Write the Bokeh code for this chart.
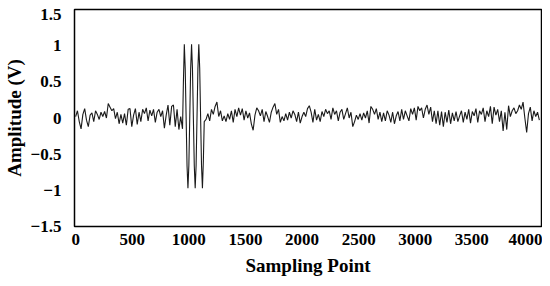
from bokeh.plotting import figure
from bokeh.models import FixedTicker, Range1d
from bokeh.embed import file_html
from bokeh.resources import INLINE

# ---- data ----
NOISE_STEP = 16
noise_pre_start = 0
noise_pre = [0.02, 0.10, -0.05, -0.15, 0.05, 0.13, -0.03, -0.12, 0.04, 0.07,
             -0.05, 0.10, 0.05, -0.02, 0.08, 0.02, 0.09, 0.00, 0.20, 0.15,
             0.10, 0.13, -0.01, 0.08, -0.08, 0.05, -0.07, 0.06, -0.10, 0.12,
             0.13, -0.12, 0.04, 0.13, -0.09, 0.08, -0.05, 0.12, 0.06, 0.14,
             -0.04, 0.11, 0.03, 0.12, -0.06, 0.08, 0.12, 0.02, 0.10, -0.14,
             0.04, 0.18, -0.10, 0.16, 0.18, -0.12, 0.12, -0.16, 0.02]

BURST_STEP = 8
burst_start = 944
burst = [-0.15, 0.50, 1.02, 0.68, 0.00, -0.66, -0.97, -0.66, 0.00, 0.68,
         1.02, 0.68, 0.00, -0.66, -0.97, -0.66, 0.00, 0.68, 1.02, 0.68,
         0.00, -0.66, -0.97, -0.60, -0.05]

noise_post_start = 1152
noise_post = [-0.02, 0.06, -0.04, 0.12, 0.05, 0.16, 0.22, 0.02, 0.10, -0.04,
              0.03, -0.05, 0.06, -0.02, 0.10, -0.06, 0.12, 0.02, 0.14, 0.04,
              0.13, -0.03, 0.10, 0.00, 0.07, -0.08, -0.17, 0.04, 0.14, 0.10,
              0.03, 0.12, -0.05, 0.09, 0.02, -0.06, 0.08, 0.15, 0.20, 0.05,
              0.12, -0.06, 0.02, -0.04, 0.06, -0.03, 0.08, 0.00, 0.10, 0.05,
              -0.05, 0.08, -0.07, 0.02, 0.08, 0.02, 0.13, 0.17, 0.08, -0.06,
              0.12, -0.03, 0.05, -0.05, 0.09, 0.02, 0.12, 0.06, 0.10, -0.02,
              0.14, 0.05, 0.10, -0.04, 0.08, 0.12, -0.02, 0.06, 0.14, 0.00,
              0.08, -0.12, -0.05, 0.04, -0.02, 0.06, -0.03, 0.07, 0.00, 0.10,
              -0.07, 0.16, 0.12, 0.05, 0.13, -0.02, 0.08, -0.05, 0.07, -0.04,
              0.10, 0.04, -0.06, 0.08, -0.08, 0.03, 0.09, -0.04, 0.12, -0.02,
              0.10, 0.03, -0.04, 0.13, 0.05, 0.14, -0.03, 0.16, 0.10, 0.14,
              0.00, 0.12, 0.18, 0.05, 0.15, -0.05, 0.10, -0.08, 0.10, -0.10,
              0.09, -0.12, 0.08, -0.06, 0.11, -0.08, 0.07, -0.04, 0.09, -0.05,
              0.03, 0.10, -0.06, 0.08, -0.02, 0.12, -0.07, 0.09, 0.03, 0.13,
              -0.06, 0.10, 0.05, 0.14, -0.05, 0.10, 0.02, 0.16, -0.08, 0.15,
              0.04, 0.12, -0.05, 0.10, -0.18, 0.08, -0.16, 0.17, 0.02, 0.10,
              0.14, 0.06, 0.10, 0.18, 0.12, 0.22, 0.00, -0.20, 0.06, 0.15,
              -0.04, 0.10, 0.02, 0.08, -0.03]

x_ticks = [0, 500, 1000, 1500, 2000, 2500, 3000, 3500, 4000]
y_ticks = [-1.5, -1.0, -0.5, 0.0, 0.5, 1.0, 1.5]
y_tick_labels = ["\u22121.5", "\u22121", "\u22120.5", "0", "0.5", "1", "1.5"]

# ---- assemble the trace ----
xs, ys = [], []
for start, step, vals in [(noise_pre_start, NOISE_STEP, noise_pre),
                          (burst_start, BURST_STEP, burst),
                          (noise_post_start, NOISE_STEP, noise_post)]:
    for i, v in enumerate(vals):
        xs.append(start + i * step)
        ys.append(v)

FONT = "Liberation Serif"

p = figure(width=542, height=278, output_backend="svg", toolbar_location=None,
           x_range=Range1d(-10, 4115), y_range=Range1d(-1.5, 1.5),
           min_border_left=74, min_border_right=1, min_border_top=9,
           min_border_bottom=51, background_fill_color="white",
           border_fill_color="white")

p.line(xs, ys, line_color="#1a1a1a", line_width=1.1)

p.xgrid.visible = False
p.ygrid.visible = False
p.outline_line_color = "black"
p.outline_line_width = 1.5

for ax in (p.xaxis[0], p.yaxis[0]):
    ax.axis_line_color = None
    ax.major_tick_line_color = None
    ax.minor_tick_line_color = None
    ax.major_label_text_font = FONT
    ax.major_label_text_font_style = "bold"
    ax.major_label_text_font_size = "17px"
    ax.major_label_text_color = "black"
    ax.axis_label_text_font = FONT
    ax.axis_label_text_font_style = "bold"
    ax.axis_label_text_font_size = "19px"
    ax.axis_label_text_color = "black"

p.xaxis[0].ticker = FixedTicker(ticks=x_ticks)
p.xaxis[0].axis_label = "Sampling Point"
p.xaxis[0].major_label_standoff = 1
p.xaxis[0].axis_label_standoff = 7

# the top tick label sits a little below the frame edge, as in the reference
TOP_LABEL_NUDGE = 0.07
y_tick_pos = list(y_ticks[:-1]) + [y_ticks[-1] - TOP_LABEL_NUDGE]
p.yaxis[0].ticker = FixedTicker(ticks=y_tick_pos)
p.yaxis[0].major_label_overrides = {t: l for t, l in zip(y_tick_pos, y_tick_labels)}
p.yaxis[0].axis_label = "Amplitude (V)"
p.yaxis[0].major_label_standoff = 7
p.yaxis[0].axis_label_standoff = 3

open("out.html", "w").write(file_html(p, INLINE))
